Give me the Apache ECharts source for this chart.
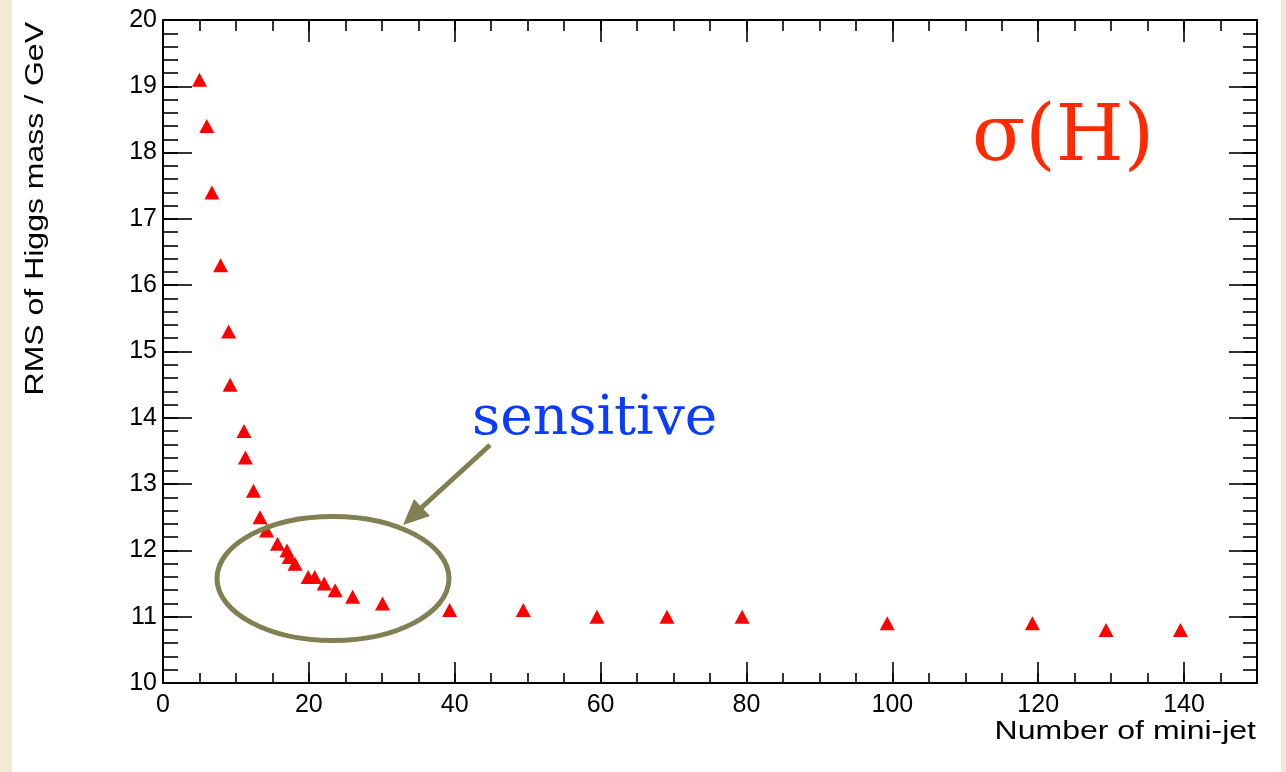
<!DOCTYPE html>
<html>
<head>
<meta charset="utf-8">
<script src="https://cdn.jsdelivr.net/npm/echarts@6/dist/echarts.min.js"></script>
<style>
html,body{margin:0;padding:0;background:#f4ead3;}
#c{width:1286px;height:772px;}
</style>
</head>
<body>
<div id="c"></div>
<script>
// Data
const nMiniJet = [5, 6, 6.7, 7.9, 9, 9.2, 11.1, 11.3, 12.4, 13.3, 14.2, 15.7, 17, 17.3, 18.1, 19.9, 20.8, 22.1, 23.6, 26, 30.1, 39.3, 49.4, 59.5, 69.1, 79.4, 99.3, 119.2, 129.3, 139.5];
const rmsHiggs = [19.1, 18.4, 17.4, 16.3, 15.3, 14.5, 13.8, 13.4, 12.9, 12.5, 12.3, 12.1, 12.0, 11.9, 11.8, 11.6, 11.6, 11.5, 11.4, 11.3, 11.2, 11.1, 11.1, 11.0, 11.0, 11.0, 10.9, 10.9, 10.8, 10.8];
const xTitle = 'Number of mini-jet';
const yTitle = 'RMS of Higgs mass / GeV';
const xRange = [0, 150];
const yRange = [10, 20];

const chart = echarts.init(document.getElementById('c'), null, {renderer: 'canvas'});
const pts = nMiniJet.map((x, i) => [x, rmsHiggs[i]]);
const font = '"Liberation Sans", Arial, Helvetica, sans-serif';

function xAx(pos, interval, len, showLabel, showLine) {
  return {
    type: 'value', position: pos, min: xRange[0], max: xRange[1], interval: interval,
    axisLine: {show: showLine, onZero: false, lineStyle: {color: '#000', width: 2}},
    axisTick: {show: true, inside: true, length: len, lineStyle: {color: '#000', width: 1.6}},
    axisLabel: {show: showLabel, inside: false, margin: 10, color: '#000', fontSize: 25, fontFamily: font,
      formatter: v => (v % 20 === 0 && v < 150) ? String(v) : ''},
    splitLine: {show: false}
  };
}
function yAx(pos, interval, len, showLabel, showLine) {
  return {
    type: 'value', position: pos, min: yRange[0], max: yRange[1], interval: interval,
    axisLine: {show: showLine, onZero: false, lineStyle: {color: '#000', width: 2}},
    axisTick: {show: true, inside: true, length: len, lineStyle: {color: '#000', width: 1.6}},
    axisLabel: {show: showLabel, inside: false, margin: 6, color: '#000', fontSize: 25, fontFamily: font,
      formatter: v => Math.abs(v - Math.round(v)) < 1e-6 ? String(Math.round(v)) : ''},
    splitLine: {show: false}
  };
}

const option = {
  backgroundColor: 'transparent',
  animation: false,
  grid: {left: 163, right: 29, top: 20, bottom: 89, containLabel: false},
  xAxis: [
    xAx('bottom', 20, 21, true, true),
    xAx('bottom', 5, 10, false, false),
    xAx('top', 20, 22, false, true),
    xAx('top', 5, 11, false, false)
  ],
  yAxis: [
    yAx('left', 1, 29, true, true),
    yAx('left', 0.2, 15, false, false),
    yAx('right', 1, 28, false, true),
    yAx('right', 0.2, 14, false, false)
  ],
  series: [{
    type: 'scatter', xAxisIndex: 0, yAxisIndex: 0,
    symbol: 'triangle', symbolSize: [15, 14],
    itemStyle: {color: '#ff0000', opacity: 1},
    data: pts, z: 5
  }],
  graphic: [
    {type: 'rect', z: -100, silent: true, shape: {x: 12, y: 0, width: 1269, height: 772}, style: {fill: '#ffffff'}},
    {type: 'text', z: 10, x: 1256, y: 732, scaleX: 1.28, style: {text: xTitle, font: '25px ' + font, fill: '#000', textAlign: 'right', textVerticalAlign: 'middle'}},
    {type: 'text', z: 10, x: 36, y: 22, rotation: Math.PI / 2, scaleX: 1.28, style: {text: yTitle, font: '25px ' + font, fill: '#000', textAlign: 'right', textVerticalAlign: 'middle'}},
    {type: 'text', z: 10, x: 972, y: 140, style: {text: 'σ(H)', font: '78px "DejaVu Serif", serif', fill: '#ff2a00', textAlign: 'left', textVerticalAlign: 'middle'}},
    {type: 'text', z: 10, x: 472, y: 420, style: {text: 'sensitive', font: '55px "DejaVu Serif", serif', fill: '#0a3cff', textAlign: 'left', textVerticalAlign: 'middle'}},
    {type: 'ellipse', z: 10, shape: {cx: 333, cy: 578.5, rx: 116, ry: 62}, style: {fill: 'none', stroke: '#808052', lineWidth: 5}},
    {type: 'line', z: 10, shape: {x1: 490, y1: 445, x2: 420, y2: 509}, style: {stroke: '#808052', lineWidth: 5}},
    {type: 'polygon', z: 10, shape: {points: [[403, 525], [430, 516], [414, 499]]}, style: {fill: '#808052'}}
  ]
};
chart.setOption(option);
</script>
</body>
</html>
